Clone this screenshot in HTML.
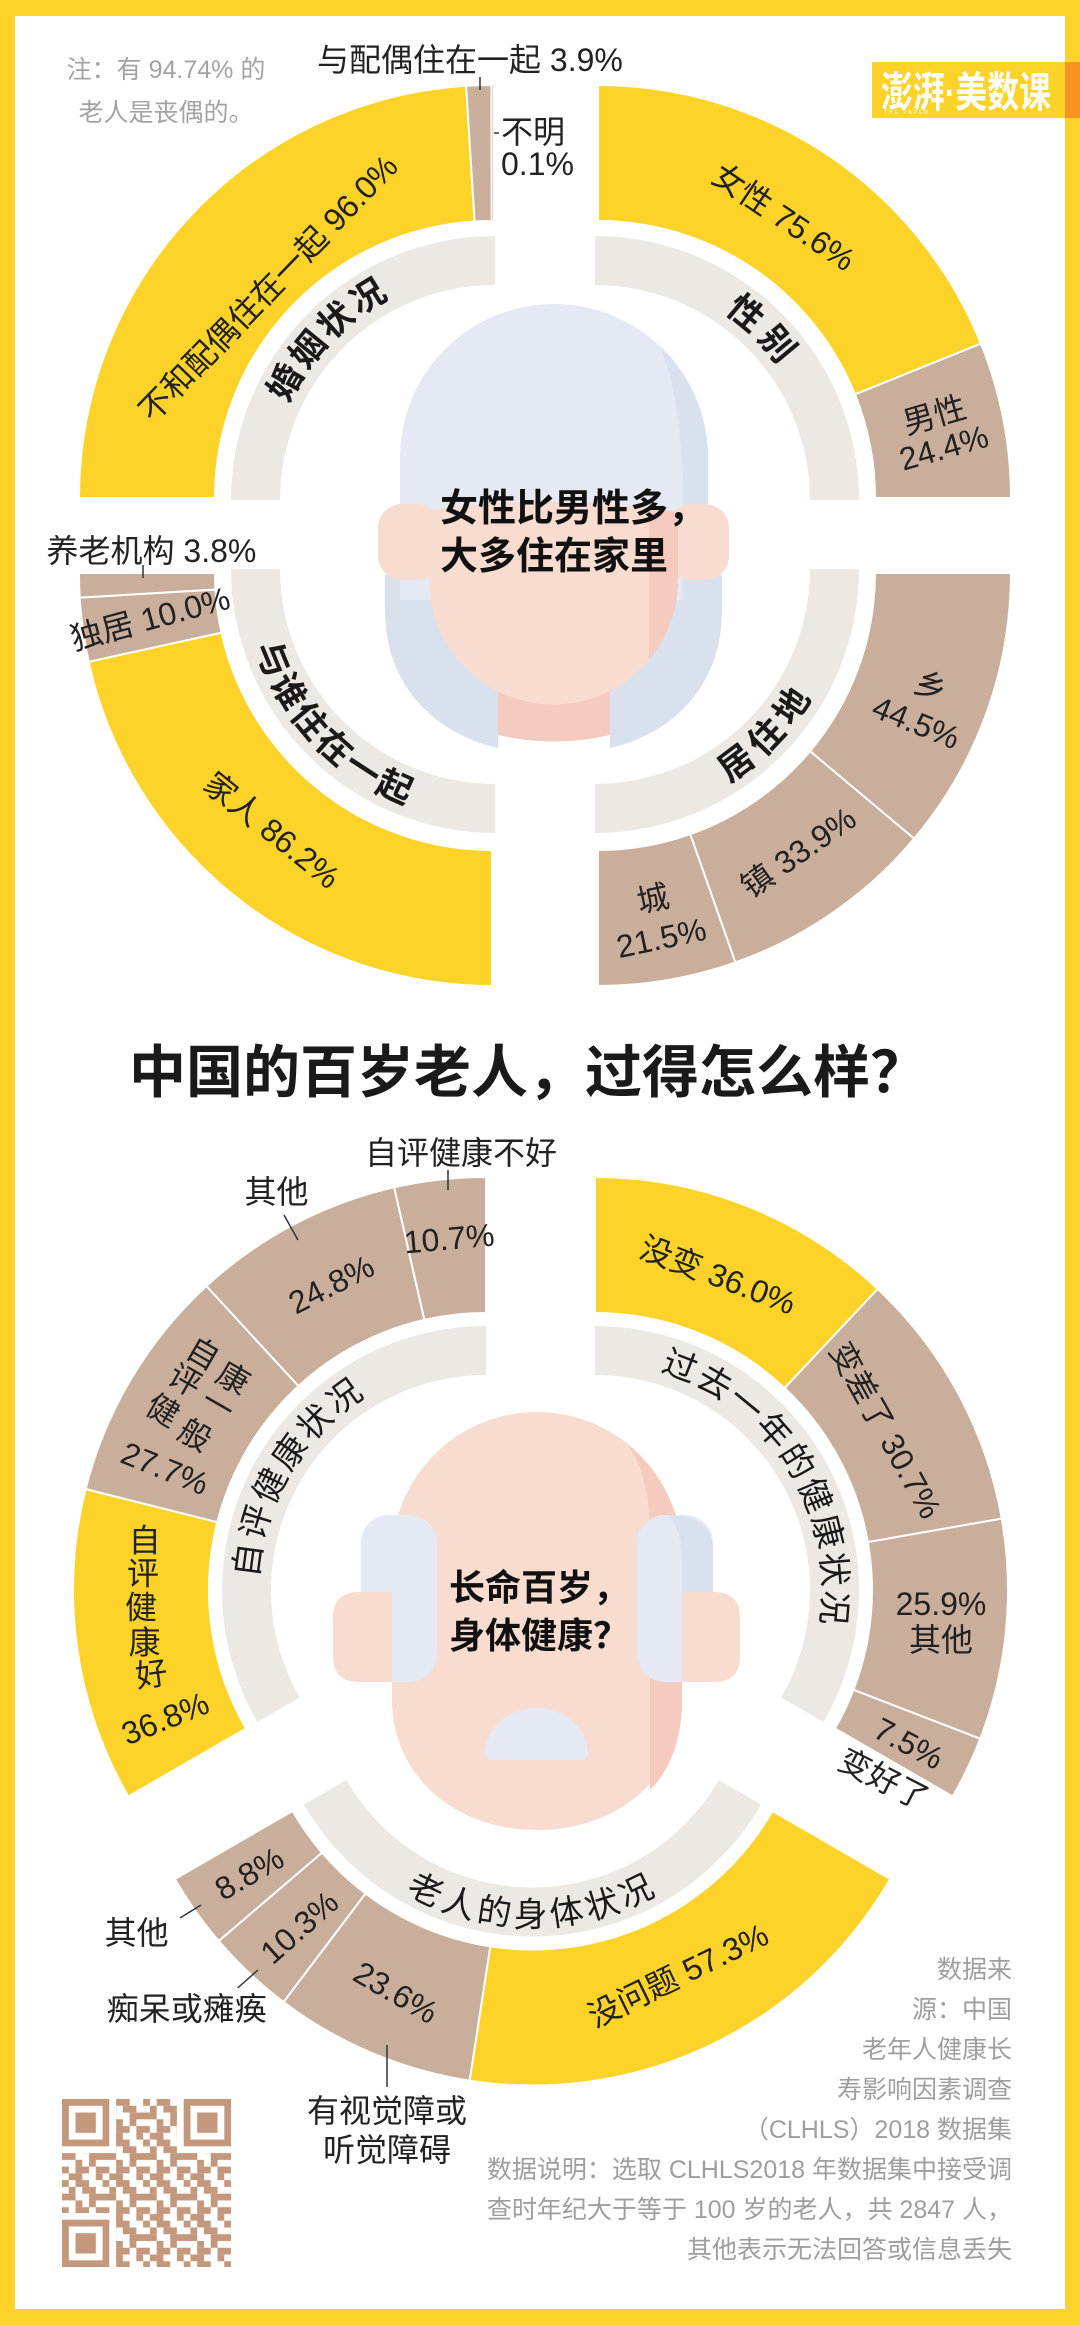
<!DOCTYPE html>
<html><head><meta charset="utf-8">
<style>
html,body{margin:0;padding:0;background:#FDD229;}
svg{display:block;}
text{font-family:"Liberation Sans","Noto Sans CJK SC",sans-serif;}
</style></head>
<body>
<svg width="1080" height="2325" viewBox="0 0 1080 2325" xmlns="http://www.w3.org/2000/svg">
<defs>
<pattern id="qp" x="62" y="2099" width="40.56" height="40.56" patternUnits="userSpaceOnUse">
<g fill="#C4987C">
<rect x="0" y="0" width="6.8" height="6.8"/><rect x="13.52" y="0" width="13.56" height="6.8"/>
<rect x="6.76" y="6.76" width="6.8" height="6.8"/><rect x="20.28" y="6.76" width="13.56" height="6.8"/>
<rect x="0" y="13.52" width="13.56" height="6.8"/><rect x="27.04" y="13.52" width="13.56" height="6.8"/>
<rect x="13.52" y="20.28" width="6.8" height="6.8"/><rect x="27.04" y="20.28" width="6.8" height="6.8"/>
<rect x="0" y="27.04" width="6.8" height="6.8"/><rect x="13.52" y="27.04" width="13.56" height="6.8"/><rect x="33.8" y="27.04" width="6.8" height="6.8"/>
<rect x="6.76" y="33.8" width="13.56" height="6.8"/><rect x="33.8" y="33.8" width="6.8" height="6.8"/>
</g>
</pattern>
<path id="p1" d="M268.2,523.8 A228,228 0 0 1 510.9,272.6"/>
<path id="p2" d="M575.1,272.9 A228,228 0 0 1 822.1,519.9"/>
<path id="p3" d="M244.4,542.7 A252,252 0 0 0 512.6,820.4"/>
<path id="p4" d="M579.2,820.5 A252,252 0 0 0 845.4,540.9"/>
<path id="p5" d="M270.7,1665 A228,228 0 0 1 449.6,1364.9"/>
<path id="p6" d="M586.2,1362.2 A228,228 0 0 1 796.7,1696.3"/>
<path id="p7" d="M312.5,1799.5 A254,254 0 0 0 752.5,1799.5"/>
</defs>

<rect width="1080" height="2325" fill="#FDD229"/>
<rect x="15" y="16" width="1050" height="2293" fill="#fff"/>

<!-- logo -->
<rect x="872" y="62" width="193" height="56" fill="#FDD229"/>
<rect x="1065" y="62" width="15" height="56" fill="#F7931E"/>
<text x="881" y="107" font-size="42" font-weight="bold" fill="#fff" textLength="170" lengthAdjust="spacingAndGlyphs">澎湃·美数课</text>
<text x="884" y="114" font-size="5" fill="#fff" letter-spacing="2">THE PAPER</text>

<!-- note -->
<text x="166" y="78" text-anchor="middle" font-size="25" fill="#A3A3A3">注：有 94.74% 的</text>
<text x="166" y="121" text-anchor="middle" font-size="25" fill="#A3A3A3">老人是丧偶的。</text>

<!-- ===== TOP CHART rings ===== -->
<g stroke="#fff" stroke-width="2" stroke-linejoin="round">
<path fill="#FDD229" d="M79,498 A413,413 0 0 1 466.1,85.8 L474.6,221.5 A277,277 0 0 0 215,498 Z"/>
<path fill="#C9AE9B" d="M466.1,85.8 A413,413 0 0 1 491.4,85 L491.6,221 A277,277 0 0 0 474.6,221.5 Z"/>
<path fill="#FDD229" d="M598,85 A413,413 0 0 1 981,343.6 L854.9,394.4 A277,277 0 0 0 598,221 Z"/>
<path fill="#C9AE9B" d="M981,343.6 A413,413 0 0 1 1011,498 L875,498 A277,277 0 0 0 854.9,394.4 Z"/>
<path fill="#C9AE9B" d="M1011,573 A413,413 0 0 1 914.2,838.7 L810,751.2 A277,277 0 0 0 875,573 Z"/>
<path fill="#C9AE9B" d="M914.2,838.7 A413,413 0 0 1 735.4,962.5 L690.2,834.2 A277,277 0 0 0 810,751.2 Z"/>
<path fill="#C9AE9B" d="M735.4,962.5 A413,413 0 0 1 598,986 L598,850 A277,277 0 0 0 690.2,834.2 Z"/>
<path fill="#FDD229" d="M492,986 A413,413 0 0 1 88.7,661.8 L221.5,632.6 A277,277 0 0 0 492,850 Z"/>
<path fill="#C9AE9B" d="M88.7,661.8 A413,413 0 0 1 79.7,597.6 L215.5,589.5 A277,277 0 0 0 221.5,632.6 Z"/>
<path fill="#C9AE9B" d="M79.7,597.6 A413,413 0 0 1 79,573 L215,573 A277,277 0 0 0 215.5,589.5 Z"/>
</g>
<line x1="492.5" y1="85" x2="492.5" y2="221" stroke="#E6DAD1" stroke-width="1.5"/>
<g fill="#ECE9E4">
<path d="M231,500 A264,264 0 0 1 495,236 L495,285 A215,215 0 0 0 280,500 Z"/>
<path d="M595,236 A264,264 0 0 1 859,500 L810,500 A215,215 0 0 0 595,285 Z"/>
<path d="M495,833 A264,264 0 0 1 231,569 L280,569 A215,215 0 0 0 495,784 Z"/>
<path d="M859,569 A264,264 0 0 1 595,833 L595,784 A215,215 0 0 0 810,569 Z"/>
</g>

<!-- top face -->
<path fill="#D9E0EE" d="M385,575 L385,610 C385,690 440,735 498,748 L498,690 L610,690 L610,748 C668,735 722,690 722,610 L722,575 Z"/>
<path fill="#E4E9F3" d="M400,600 L400,458 A154,154 0 0 1 708,458 L708,600 Z"/>
<path fill="#D9E0EE" d="M660,346 C682,400 686,470 682,600 L708,600 L708,458 A154,154 0 0 0 660,346 Z"/>
<path fill="#F4CBBE" d="M498,680 L498,735 Q554,748 610,735 L610,680 Z"/>
<rect x="378" y="504" width="62" height="76" rx="24" fill="#F7DCCF"/>
<rect x="667" y="504" width="62" height="76" rx="24" fill="#F7DCCF"/>
<path fill="#F7DCCF" d="M429,510 Q553,492 678,512 L678,580 A124.5,124.5 0 0 1 429,580 Z"/>
<path fill="#F4CBBE" d="M649,509 L678,512 L678,580 A124.5,124.5 0 0 1 649,660 Z"/>
<text x="440" y="521" font-size="38" font-weight="bold" fill="#111">女性比男性多，</text>
<text x="440" y="569" font-size="38" font-weight="bold" fill="#111">大多住在家里</text>

<!-- top ring titles -->
<g font-size="35" font-weight="bold" fill="#1a1a1a">
<text letter-spacing="3"><textPath href="#p1" startOffset="50%" text-anchor="middle">婚姻状况</textPath></text>
<text letter-spacing="7"><textPath href="#p2" startOffset="50%" text-anchor="middle">性别</textPath></text>
<text letter-spacing="3"><textPath href="#p3" startOffset="50%" text-anchor="middle">与谁住在一起</textPath></text>
<text letter-spacing="7"><textPath href="#p4" startOffset="50%" text-anchor="middle">居住地</textPath></text>
</g>

<!-- top labels -->
<g font-size="32" fill="#222">
<text x="317" y="71">与配偶住在一起 3.9%</text>
<text x="501" y="143">不明</text>
<text x="501" y="175">0.1%</text>
<text transform="translate(268,288) rotate(-46)" text-anchor="middle" dy="0.36em">不和配偶住在一起 96.0%</text>
<text transform="translate(784,217) rotate(34)" text-anchor="middle" dy="0.36em">女性 75.6%</text>
<g transform="translate(939,431) rotate(-16)" text-anchor="middle">
<text y="-17" dy="0.36em">男性</text><text y="17" dy="0.36em">24.4%</text></g>
<g transform="translate(923.5,704) rotate(22)" text-anchor="middle">
<text y="-19.5" dy="0.36em">乡</text><text y="19.5" dy="0.36em">44.5%</text></g>
<text transform="translate(798,852) rotate(-35)" text-anchor="middle" dy="0.36em">镇 33.9%</text>
<g transform="translate(657,918) rotate(-12)" text-anchor="middle">
<text y="-20" dy="0.36em">城</text><text y="20" dy="0.36em">21.5%</text></g>
<text transform="translate(272,830) rotate(39)" text-anchor="middle" dy="0.36em">家人 86.2%</text>
<text transform="translate(150,618) rotate(-15)" text-anchor="middle" dy="0.36em">独居 10.0%</text>
<text x="46.5" y="562">养老机构 3.8%</text>
</g>
<g stroke="#333" stroke-width="1.5">
<line x1="480" y1="77" x2="480" y2="90"/>
<line x1="494" y1="133" x2="499" y2="133"/>
<line x1="143" y1="565" x2="143" y2="578"/>
</g>

<!-- title -->
<text x="528" y="1092" font-size="57" font-weight="bold" text-anchor="middle" fill="#1a1a1a">中国的百岁老人，过得怎么样？</text>

<!-- ===== BOTTOM CHART rings ===== -->
<g stroke="#fff" stroke-width="2" stroke-linejoin="round">
<path fill="#FDD229" d="M128.3,1796.5 A413,413 0 0 1 85.6,1489 L217.4,1522.2 A277,277 0 0 0 246.1,1728.5 Z"/>
<path fill="#C9AE9B" d="M85.6,1489 A413,413 0 0 1 206.4,1286 L298.5,1386.1 A277,277 0 0 0 217.4,1522.2 Z"/>
<path fill="#C9AE9B" d="M206.4,1286 A413,413 0 0 1 394.2,1187.3 L424.4,1319.9 A277,277 0 0 0 298.5,1386.1 Z"/>
<path fill="#C9AE9B" d="M394.2,1187.3 A413,413 0 0 1 486,1177 L486,1313 A277,277 0 0 0 424.4,1319.9 Z"/>
<path fill="#FDD229" d="M595,1177 A413,413 0 0 1 877.7,1288.9 L784.6,1388.1 A277,277 0 0 0 595,1313 Z"/>
<path fill="#C9AE9B" d="M877.7,1288.9 A413,413 0 0 1 1001.8,1518.6 L867.8,1542.1 A277,277 0 0 0 784.6,1388.1 Z"/>
<path fill="#C9AE9B" d="M1001.8,1518.6 A413,413 0 0 1 980.3,1738.8 L853.4,1689.8 A277,277 0 0 0 867.8,1542.1 Z"/>
<path fill="#C9AE9B" d="M980.3,1738.8 A413,413 0 0 1 952.7,1796.5 L834.9,1728.5 A277,277 0 0 0 853.4,1689.8 Z"/>
<path fill="#FDD229" d="M890.2,1879 A413,413 0 0 1 469.6,2080.7 L490.3,1946.3 A277,277 0 0 0 772.4,1811 Z"/>
<path fill="#C9AE9B" d="M469.6,2080.7 A413,413 0 0 1 283.5,2002 L365.5,1893.5 A277,277 0 0 0 490.3,1946.3 Z"/>
<path fill="#C9AE9B" d="M283.5,2002 A413,413 0 0 1 218.7,1941 L322,1852.6 A277,277 0 0 0 365.5,1893.5 Z"/>
<path fill="#C9AE9B" d="M218.7,1941 A413,413 0 0 1 174.8,1879 L292.6,1811 A277,277 0 0 0 322,1852.6 Z"/>
</g>
<g fill="#ECE9E4">
<path d="M257.4,1722 A264,264 0 0 1 486,1326 L486,1375 A215,215 0 0 0 299.8,1697.5 Z"/>
<path d="M595,1326 A264,264 0 0 1 823.6,1722 L781.2,1697.5 A215,215 0 0 0 595,1375 Z"/>
<path d="M761.1,1804.5 A264,264 0 0 1 303.9,1804.5 L346.3,1780 A215,215 0 0 0 718.7,1780 Z"/>
</g>

<!-- bottom face -->
<path fill="#F7DCCF" d="M392,1557 A145,145 0 0 1 682,1557 L682,1700 C682,1775 620,1830 537,1830 C454,1830 392,1775 392,1700 Z"/>
<path fill="#F4CBBE" d="M628,1445 C645,1470 650,1500 650,1540 L650,1790 C670,1770 682,1740 682,1700 L682,1557 A145,145 0 0 0 628,1445 Z"/>
<rect x="361" y="1515" width="76" height="167" rx="28" fill="#E4E9F3"/>
<rect x="637" y="1515" width="76" height="167" rx="28" fill="#E4E9F3"/>
<path fill="#D9E0EE" d="M668,1516 C690,1513 713,1525 713,1548 L713,1600 L682,1600 L682,1560 C682,1540 678,1525 668,1516 Z"/>
<path fill="#F7DCCF" d="M392,1592 L359,1592 Q333,1592 333,1618 L333,1656 Q333,1682 359,1682 L392,1682 Z"/>
<path fill="#F7DCCF" d="M682,1592 L714,1592 Q740,1592 740,1618 L740,1656 Q740,1682 714,1682 L682,1682 Z"/>
<path fill="#E4E9F3" d="M485,1754 A51.5,46 0 0 1 588,1754 Q588,1760 581,1760 L492,1760 Q485,1760 485,1754 Z"/>
<text x="449" y="1600" font-size="36" font-weight="bold" fill="#111">长命百岁，</text>
<text x="449" y="1648" font-size="36" font-weight="bold" fill="#111">身体健康？</text>

<!-- bottom ring titles -->
<g font-size="34" fill="#1a1a1a">
<text letter-spacing="3"><textPath href="#p5" startOffset="50%" text-anchor="middle">自评健康状况</textPath></text>
<text letter-spacing="2.5"><textPath href="#p6" startOffset="50%" text-anchor="middle">过去一年的健康状况</textPath></text>
<text letter-spacing="4"><textPath href="#p7" startOffset="50%" text-anchor="middle">老人的身体状况</textPath></text>
</g>

<!-- bottom labels -->
<g font-size="32" fill="#222">
<text x="365" y="1164">自评健康不好</text>
<text transform="translate(449,1238) rotate(-5)" text-anchor="middle" dy="0.36em">10.7%</text>
<text x="244.5" y="1203">其他</text>
<text transform="translate(331,1284) rotate(-27)" text-anchor="middle" dy="0.36em">24.8%</text>
<g text-anchor="middle">
<text transform="translate(203.3,1353.3) rotate(30)" dy="0.36em">自</text>
<text transform="translate(185,1380) rotate(30)" dy="0.36em">评</text>
<text transform="translate(163,1410) rotate(30)" dy="0.36em">健</text>
<text transform="translate(233.3,1378) rotate(30)" dy="0.36em">康</text>
<text transform="translate(218,1405) rotate(30)" dy="0.36em">一</text>
<text transform="translate(195,1435) rotate(30)" dy="0.36em">般</text>
<text transform="translate(165,1468) rotate(22)" dy="0.36em">27.7%</text>
<text x="144.6" y="1540" dy="0.36em">自</text>
<text x="143" y="1573" dy="0.36em">评</text>
<text x="141" y="1607" dy="0.36em">健</text>
<text x="144.6" y="1642" dy="0.36em">康</text>
<text transform="translate(151.5,1674) rotate(-8)" dy="0.36em">好</text>
<text transform="translate(165,1718) rotate(-22)" dy="0.36em">36.8%</text>
<text transform="translate(718,1275) rotate(21)" dy="0.36em">没变 36.0%</text>
<text transform="translate(886,1430) rotate(61)" dy="0.36em">变差了 30.7%</text>
<text x="941" y="1615">25.9%</text>
<text x="941" y="1651">其他</text>
<text transform="translate(909,1743) rotate(28)" dy="0.36em">7.5%</text>
<text transform="translate(884,1779) rotate(27)" dy="0.36em">变好了</text>
<text transform="translate(249,1873) rotate(-30)" dy="0.36em">8.8%</text>
<text transform="translate(299,1927) rotate(-41.5)" dy="0.36em">10.3%</text>
<text transform="translate(396,1992) rotate(30)" dy="0.36em">23.6%</text>
<text transform="translate(678,1975) rotate(-26)" dy="0.36em">没问题 57.3%</text>
<text x="387" y="2122">有视觉障或</text>
<text x="387" y="2161">听觉障碍</text>
</g>
<text x="104.6" y="1944">其他</text>
<text x="106.7" y="2020">痴呆或瘫痪</text>
</g>
<g stroke="#333" stroke-width="1.5">
<line x1="448" y1="1170" x2="448" y2="1190"/>
<line x1="284" y1="1215" x2="298" y2="1240"/>
<line x1="180" y1="1918" x2="201" y2="1905"/>
<line x1="237.6" y1="1988" x2="258" y2="1970"/>
<line x1="387" y1="2045" x2="387" y2="2087"/>
</g>

<!-- credits -->
<g font-size="25" fill="#9E9E9E" text-anchor="end">
<text x="1012" y="1978">数据来</text>
<text x="1012" y="2018">源：中国</text>
<text x="1012" y="2058">老年人健康长</text>
<text x="1012" y="2098">寿影响因素调查</text>
<text x="1012" y="2138">（CLHLS）2018 数据集</text>
<text x="1012" y="2178">数据说明：选取 CLHLS2018 年数据集中接受调</text>
<text x="1012" y="2218">查时年纪大于等于 100 岁的老人，共 2847 人，</text>
<text x="1012" y="2258">其他表示无法回答或信息丢失</text>
</g>

<!-- QR -->
<rect x="62" y="2099" width="169" height="168" fill="url(#qp)"/>
<g fill="#fff">
<rect x="62" y="2099" width="54" height="54"/>
<rect x="177" y="2099" width="54" height="54"/>
<rect x="62" y="2213" width="54" height="54"/>
</g>
<g fill="#C4987C">
<rect x="62" y="2099" width="47.3" height="47.3"/>
<rect x="183.7" y="2099" width="47.3" height="47.3"/>
<rect x="62" y="2219.7" width="47.3" height="47.3"/>
</g>
<g fill="#fff">
<rect x="68.8" y="2105.8" width="33.8" height="33.8"/>
<rect x="190.5" y="2105.8" width="33.8" height="33.8"/>
<rect x="68.8" y="2226.5" width="33.8" height="33.8"/>
</g>
<g fill="#C4987C">
<rect x="75.5" y="2112.5" width="20.3" height="20.3"/>
<rect x="197.2" y="2112.5" width="20.3" height="20.3"/>
<rect x="75.5" y="2233.2" width="20.3" height="20.3"/>
</g>
</svg>
</body></html>
